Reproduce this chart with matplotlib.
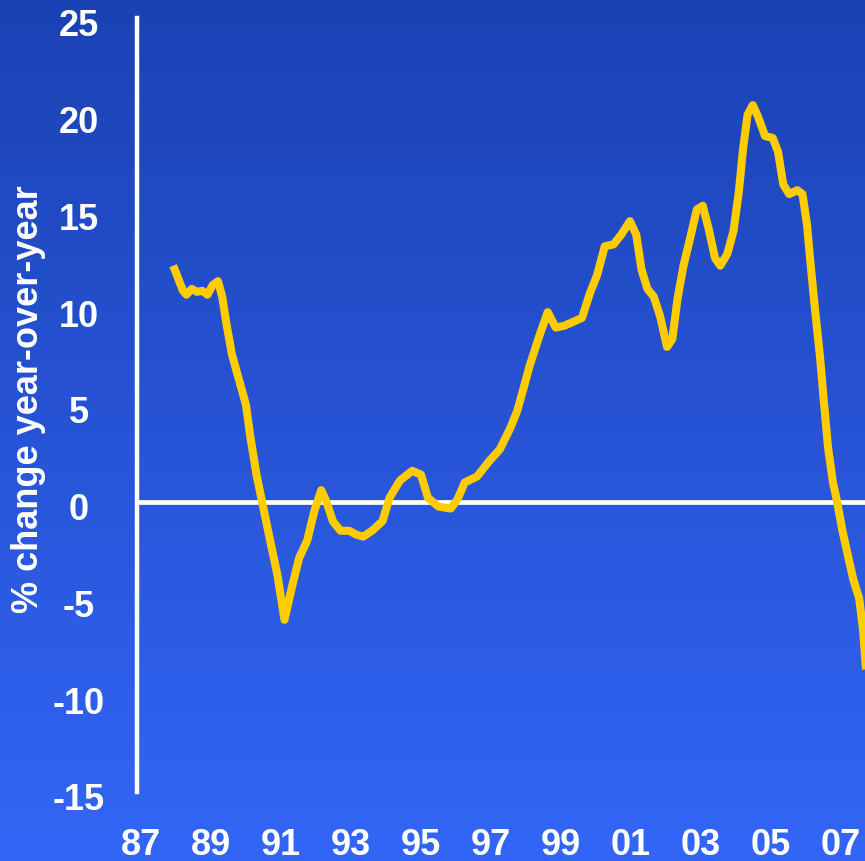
import matplotlib
matplotlib.use("Agg")
import matplotlib.pyplot as plt
import matplotlib.transforms as mtransforms
import numpy as np

# year-over-year % change, read at irregular points through each year
years = [
    1987.92, 1988.05, 1988.20, 1988.30, 1988.45, 1988.60, 1988.75, 1988.90,
    1989.05, 1989.20, 1989.32, 1989.45, 1989.60, 1989.80, 1990.00, 1990.12,
    1990.30, 1990.46, 1990.70, 1990.90, 1991.10, 1991.30, 1991.52, 1991.75,
    1991.95, 1992.15, 1992.30, 1992.48, 1992.70, 1992.95, 1993.15, 1993.35,
    1993.60, 1993.90, 1994.10, 1994.40, 1994.75, 1995.00, 1995.20, 1995.50,
    1995.85, 1996.05, 1996.25, 1996.60, 1996.95, 1997.25, 1997.55, 1997.75,
    1997.92, 1998.10, 1998.35, 1998.62, 1998.85, 1999.10, 1999.35, 1999.60,
    1999.83, 2000.03, 2000.25, 2000.50, 2000.72, 2000.97, 2001.15, 2001.30,
    2001.47, 2001.65, 2001.83, 2002.03, 2002.18, 2002.33, 2002.50, 2002.70,
    2002.88, 2003.05, 2003.22, 2003.40, 2003.55, 2003.75, 2003.93, 2004.08,
    2004.20, 2004.33, 2004.48, 2004.63, 2004.83, 2005.05, 2005.20, 2005.35,
    2005.52, 2005.75, 2005.90, 2006.03, 2006.12, 2006.26, 2006.40, 2006.50,
    2006.63, 2006.77, 2006.89, 2007.03, 2007.20, 2007.35, 2007.52, 2007.63,
    2007.72,
]
pct_change = [
    12.2, 11.6, 10.9, 10.7, 11.0, 10.85, 10.9, 10.7,
    11.2, 11.4, 10.6, 9.1, 7.6, 6.3, 5.0, 3.4,
    1.4, 0.0, -2.1, -3.8, -6.1, -4.5, -2.9, -2.0,
    -0.5, 0.6, 0.0, -1.0, -1.5, -1.5, -1.7, -1.8,
    -1.5, -1.0, 0.2, 1.1, 1.6, 1.4, 0.2, -0.25,
    -0.35, 0.15, 1.0, 1.3, 2.1, 2.7, 3.8, 4.7,
    5.8, 7.0, 8.4, 9.8, 9.0, 9.1, 9.3, 9.5,
    10.8, 11.7, 13.2, 13.3, 13.8, 14.5, 13.8, 12.0,
    11.0, 10.6, 9.6, 8.0, 8.4, 10.5, 12.2, 13.7,
    15.1, 15.3, 14.1, 12.6, 12.2, 12.8, 14.0, 16.0,
    18.2, 20.0, 20.5, 19.9, 18.9, 18.8, 18.1, 16.4,
    15.9, 16.1, 15.9, 14.3, 12.5, 9.9, 7.5, 5.4,
    2.8, 1.0, 0.0, -1.4, -2.8, -4.0, -5.0, -6.6,
    -8.8,
]

tick_years = [1987, 1989, 1991, 1993, 1995, 1997, 1999, 2001, 2003, 2005, 2007]
tick_labels = ["87", "89", "91", "93", "95", "97", "99", "01", "03", "05", "07"]
y_ticks = [25, 20, 15, 10, 5, 0, -5, -10, -15]

plt.rcParams["font.family"] = ["Liberation Sans", "DejaVu Sans"]
plt.rcParams["font.weight"] = "bold"

fig = plt.figure(figsize=(8.65, 8.62), dpi=100)

# blue vertical gradient behind everything
bg = fig.add_axes([0, 0, 1, 1], zorder=-1)
top = np.array([0x1B, 0x42, 0xB4]) / 255
bottom = np.array([0x33, 0x66, 0xF7]) / 255
t = np.linspace(0, 1, 256)[:, None]
grad = top * (1 - t) + bottom * t
bg.imshow(grad[:, None, :], aspect="auto", extent=[0, 1, 0, 1])
bg.axis("off")

ax = fig.add_axes([137 / 865, 69 / 862, 728 / 865, 774 / 862])
ax.patch.set_alpha(0)

ax.axhline(0, color="white", linewidth=3.4, zorder=2)
ax.plot(years, pct_change, color="#FFCC00", linewidth=5.8, zorder=3,
        solid_joinstyle="round", solid_capstyle="butt")

ax.set_xlim(1986.886, 2007.686)
ax.set_ylim(-15, 25)

ax.set_xticks(tick_years)
ax.set_xticklabels(tick_labels)
ax.set_yticks(y_ticks)
ax.set_yticklabels([str(v) for v in y_ticks])

ax.tick_params(axis="both", length=0, colors="white", labelsize=26)
ax.tick_params(axis="x", pad=25)
ax.tick_params(axis="y", pad=42)
shift_down = mtransforms.ScaledTranslation(0, -4 / 100, fig.dpi_scale_trans)
for lbl in ax.get_yticklabels():
    lbl.set_horizontalalignment("center")
    lbl.set_fontweight("bold")
    lbl.set_transform(lbl.get_transform() + shift_down)
for lbl in ax.get_xticklabels():
    lbl.set_fontweight("bold")

for side in ["top", "right", "bottom"]:
    ax.spines[side].set_visible(False)
ax.spines["left"].set_color("white")
ax.spines["left"].set_linewidth(3.2)

fig.text(29 / 865, 1 - 399 / 862, "% change year-over-year", rotation=90,
         color="white", fontsize=26, fontweight="bold",
         ha="center", va="center")

fig.savefig("out.png", dpi=100)
